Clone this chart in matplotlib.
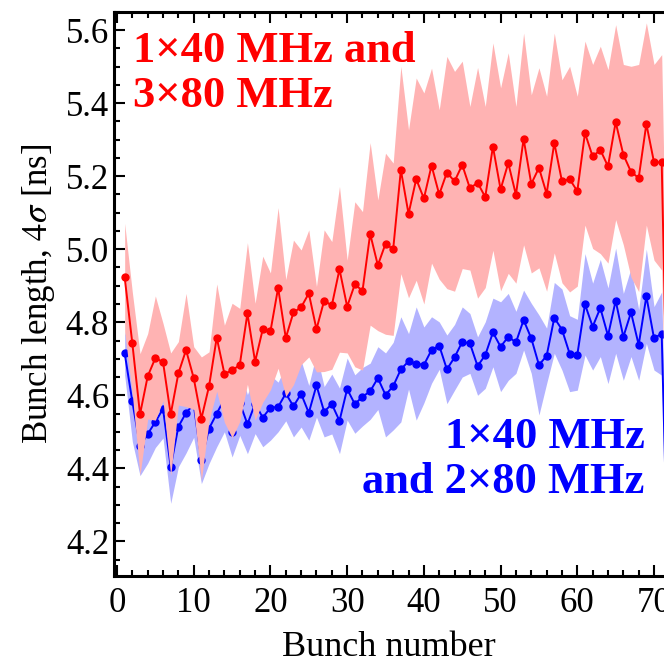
import matplotlib
matplotlib.use('Agg')
import matplotlib.pyplot as plt
from matplotlib.ticker import MultipleLocator
import numpy as np

# bunch index 1..72
bunch = np.arange(1, 73)

red_mean = [4.923, 4.742, 4.548, 4.652, 4.702, 4.691, 4.548, 4.660, 4.724, 4.647,
            4.536, 4.625, 4.758, 4.659, 4.668, 4.683, 4.824, 4.692, 4.781, 4.775,
            4.894, 4.757, 4.827, 4.841, 4.879, 4.781, 4.859, 4.846, 4.945, 4.843,
            4.904, 4.886, 5.042, 4.956, 5.015, 5.000, 5.217, 5.097, 5.192, 5.139,
            5.229, 5.150, 5.210, 5.186, 5.231, 5.167, 5.182, 5.143, 5.281, 5.164,
            5.236, 5.149, 5.302, 5.179, 5.223, 5.152, 5.291, 5.186, 5.192, 5.159,
            5.318, 5.254, 5.272, 5.227, 5.348, 5.259, 5.212, 5.195, 5.343, 5.238,
            5.238, 4.25]
red_sd = [0.148, 0.14, 0.166, 0.117, 0.170, 0.106, 0.168, 0.087, 0.155, 0.086,
          0.169, 0.094, 0.147, 0.133, 0.184, 0.155, 0.194, 0.16, 0.20, 0.16,
          0.22, 0.16, 0.198, 0.157, 0.174, 0.117, 0.194, 0.175, 0.227, 0.127,
          0.226, 0.217, 0.25, 0.179, 0.248, 0.236, 0.284, 0.23, 0.277, 0.289,
          0.267, 0.232, 0.318, 0.301, 0.284, 0.224, 0.316, 0.248, 0.284, 0.278,
          0.302, 0.242, 0.29, 0.244, 0.274, 0.267, 0.301, 0.278, 0.309, 0.26,
          0.252, 0.252, 0.284, 0.265, 0.267, 0.247, 0.289, 0.311, 0.277, 0.268,
          0.295, 0.2]

blue_mean = [4.715, 4.583, 4.46, 4.494, 4.527, 4.563, 4.404, 4.514, 4.552, 4.575,
             4.422, 4.509, 4.550, 4.59, 4.500, 4.58, 4.521, 4.577, 4.539, 4.566,
             4.568, 4.605, 4.570, 4.604, 4.552, 4.627, 4.555, 4.576, 4.530, 4.617,
             4.576, 4.596, 4.611, 4.647, 4.601, 4.625, 4.671, 4.693, 4.687, 4.683,
             4.724, 4.736, 4.671, 4.704, 4.746, 4.742, 4.680, 4.710, 4.772, 4.733,
             4.760, 4.745, 4.806, 4.756, 4.683, 4.708, 4.812, 4.780, 4.714, 4.711,
             4.849, 4.788, 4.839, 4.763, 4.859, 4.760, 4.827, 4.738, 4.871, 4.756,
             4.769, 3.94]
blue_sd = [0.06, 0.11, 0.08, 0.08, 0.07, 0.08, 0.10, 0.11, 0.11, 0.09,
           0.064, 0.096, 0.091, 0.09, 0.069, 0.09, 0.081, 0.082, 0.08, 0.089,
           0.068, 0.075, 0.084, 0.091, 0.075, 0.087, 0.069, 0.082, 0.09, 0.085,
           0.08, 0.08, 0.077, 0.086, 0.115, 0.12, 0.144, 0.076, 0.155, 0.104,
           0.091, 0.065, 0.094, 0.09, 0.096, 0.082, 0.08, 0.091, 0.094, 0.123,
           0.119, 0.085, 0.082, 0.096, 0.137, 0.076, 0.097, 0.111, 0.104, 0.097,
           0.139, 0.119, 0.133, 0.131, 0.144, 0.119, 0.121, 0.097, 0.129, 0.087,
           0.114, 0.1]

red_label = '1×40 MHz and\n3×80 MHz'
blue_label = '1×40 MHz\nand 2×80 MHz'

plt.rcParams['font.family'] = ['Liberation Serif', 'DejaVu Serif']
plt.rcParams['mathtext.fontset'] = 'stix'

fig = plt.figure(figsize=(6.64, 6.68), dpi=100)
ax = fig.add_axes([0.1717, 0.1377, 0.8283, 0.8445])

rm = np.array(red_mean); rs = np.array(red_sd)
bm = np.array(blue_mean); bs = np.array(blue_sd)

ax.fill_between(bunch, bm - bs, bm + bs, color='#b3b3ff', lw=0, zorder=1)
ax.plot(bunch, bm, '-o', color='#0000ff', lw=1.4, ms=5, zorder=2)
ax.fill_between(bunch, rm - rs, rm + rs, color='#ffb3b3', lw=0, zorder=3)
ax.plot(bunch, rm, '-o', color='#ff0000', lw=1.4, ms=5, zorder=4)

ax.set_xlim(-0.39, 71.3)
ax.set_ylim(4.105, 5.65)
ax.xaxis.set_major_locator(MultipleLocator(10))
ax.xaxis.set_minor_locator(MultipleLocator(2))
ax.yaxis.set_major_locator(MultipleLocator(0.2))
ax.yaxis.set_minor_locator(MultipleLocator(0.05))
ax.yaxis.set_major_formatter(matplotlib.ticker.FormatStrFormatter('%.1f'))
ax.tick_params(which='both', direction='in', top=True, right=False,
               labelsize=25, width=1.5)
ax.tick_params(which='major', length=8)
ax.tick_params(which='minor', length=4)
ax.tick_params(axis='x', pad=8)
for s in ['left', 'bottom', 'top']:
    ax.spines[s].set_linewidth(2.2)
ax.spines['right'].set_visible(False)

ax.set_xlabel('Bunch number', fontsize=26, labelpad=8)
ax.set_ylabel(r'Bunch length, $4\sigma$ [ns]', fontsize=25, labelpad=6)

ax.text(0.035, 0.966, red_label, transform=ax.transAxes, color='#ff0000',
        fontsize=32, fontweight='bold', va='top', ha='left',
        linespacing=1.15, zorder=6)
ax.text(0.965, 0.282, blue_label, transform=ax.transAxes, color='#0000ff',
        fontsize=32, fontweight='bold', va='top', ha='right',
        linespacing=1.15, zorder=6)

fig.savefig('out.png', dpi=100)
